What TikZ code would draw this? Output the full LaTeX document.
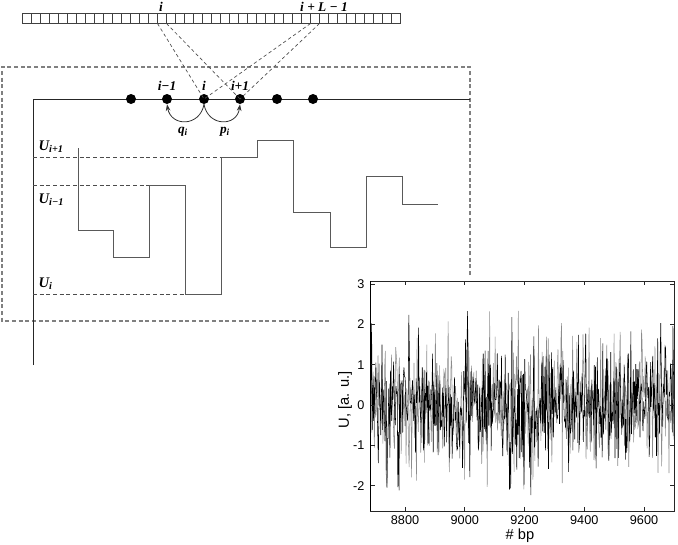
\documentclass[tikz,border=0pt]{standalone}
\usepackage{fontspec}
\setmainfont{Liberation Serif}
\newfontfamily\plotfont{Liberation Sans}
\usetikzlibrary{arrows.meta}
\begin{document}
\begin{tikzpicture}[x=0.75pt,y=-0.75pt,
  dot/.style={circle,fill=black,inner sep=0pt,minimum size=7.5pt},
  lab/.style={font=\bfseries\itshape\fontsize{10}{12}\selectfont,inner sep=1pt},
  ulab/.style={font=\bfseries\itshape\fontsize{11}{13}\selectfont,inner sep=1pt,anchor=west},
  frame/.style={black!50,dash pattern=on 3pt off 2pt,line width=0.8pt},
  guide/.style={black!70,dash pattern=on 3pt off 2pt,line width=0.6pt},
  link/.style={black!70,dash pattern=on 2.5pt off 2pt,line width=0.5pt},
  axisline/.style={black!85,line width=0.75pt},
  stepline/.style={black!65,line width=0.75pt},
  hop/.style={black!80,line width=0.6pt,-{Stealth[length=5pt,width=3.5pt]}},
  cell/.style={black!75,line width=0.5pt},
  tick/.style={font=\plotfont\fontsize{9.5}{11}\selectfont,inner sep=1pt},
  plotlab/.style={font=\plotfont\fontsize{11}{13}\selectfont,inner sep=1pt},
]
\useasboundingbox (0,0) rectangle (678,544);

% sequence strip
\foreach \k in {0,...,41} \draw[cell] ({22.5+9*\k},13) rectangle ++(9,10.5);
\node[lab] (ti) at (161,7) {i};
\node[lab] (tl) at (324,7) {i + L − 1};
\coordinate (ia) at (157.5,23.5);
\coordinate (ib) at (166.5,23.5);
\coordinate (la) at (310.5,23.5);
\coordinate (lb) at (319.5,23.5);

% dashed frame
\draw[frame] (470,275) -- (470,67) -- (2,67) -- (2,321) -- (330,321);

% axes
\coordinate (ax0) at (33,365);
\coordinate (ax1) at (33,99);
\coordinate (ax2) at (470,99);
\draw[axisline] (ax0) -- (ax1) -- (ax2);

% dots
\node[dot] (d1) at (131,99) {};
\node[dot] (d2) at (167,99) {};
\node[dot] (d3) at (204,99) {};
\node[dot] (d4) at (240,99) {};
\node[dot] (d5) at (277,99) {};
\node[dot] (d6) at (313,99) {};
\node[lab] (l2) at (167,86) {i−1};
\node[lab] (l3) at (204,86) {i};
\node[lab] (l4) at (240,86) {i+1};

% links from strip
\draw[link] (ia) -- (d3.center);
\draw[link] (ib) -- (d4.center);
\draw[link] (la) -- (d3.center);
\draw[link] (lb) -- (d4.center);

% hops
\draw[hop] (d3.south) .. controls (200,127) and (171,127) .. (d2.south);
\draw[hop] (d3.south) .. controls (208,127) and (237,127) .. (d4.south);
\node[lab] (q) at (183,132) {q\textsubscript{i}};
\node[lab] (p) at (225,132) {p\textsubscript{i}};

% guide levels
\draw[guide] (33,157) -- (221,157);
\draw[guide] (33,185) -- (149,185);
\draw[guide] (33,294) -- (185,294);
\node[ulab] (u1) at (37,147) {U\textsubscript{i+1}};
\node[ulab] (u2) at (37,200) {U\textsubscript{i−1}};
\node[ulab] (u3) at (37,284) {U\textsubscript{i}};

% step profile
\draw[stepline] (78,148) -- (78,230) -- (113,230) -- (113,257) -- (149,257) -- (149,185)
  -- (185,185) -- (185,294) -- (221,294) -- (221,157) -- (257,157) -- (257,140)
  -- (293,140) -- (293,212) -- (330,212) -- (330,247) -- (366,247) -- (366,176)
  -- (402,176) -- (402,204) -- (438,204);

% plot
\begin{scope}
\clip (370.7,281) rectangle (674,511);
\pgfmathsetseed{11}
\draw[black!45,line width=0.4pt] (370.7,405)
  \foreach \k [evaluate=\k as \rc using rand] in {1,...,500}
  { -- ({370.7+0.61*\k},{405-40.3*(0.6*(rand+rand)+1.7*\rc*\rc*\rc)}) };
\draw[black,line width=0.4pt] (370.7,405)
  \foreach \k [evaluate=\k as \rc using rand] in {1,...,500}
  { -- ({371.0+0.61*\k},{405-40.3*(0.6*(rand+rand)+1.7*\rc*\rc*\rc)}) };
\end{scope}
\draw[black!85,line width=0.6pt] (370.7,281) rectangle (674,511);
\draw[black,line width=0.9pt] (370.7,281) -- (370.7,511);
\foreach \v in {0,1,2,3,4} {
  \pgfmathsetmacro{\X}{405+\v*59.75}
  \pgfmathtruncatemacro{\T}{8800+200*\v}
  \draw[black!85,line width=0.5pt] (\X,511) -- (\X,507);
  \draw[black!85,line width=0.5pt] (\X,281) -- (\X,285);
  \node[tick] (xt\v) at (\X,520) {\T};
}
\foreach \v/\t in {-2/-2,-1/-1,0/0,1/1,2/2,3/3} {
  \pgfmathsetmacro{\Y}{405-40.3*\v}
  \draw[black!85,line width=0.5pt] (370.7,\Y) -- (374.7,\Y);
  \draw[black!85,line width=0.5pt] (674,\Y) -- (670,\Y);
  \node[tick,anchor=east] (yt\v) at (366,\Y) {\t};
}
\node[plotlab] (xl) at (520,536) {\# bp};
\node[plotlab,rotate=90] (yl) at (345,400) {U, [a. u.]};
\end{tikzpicture}
\end{document}
